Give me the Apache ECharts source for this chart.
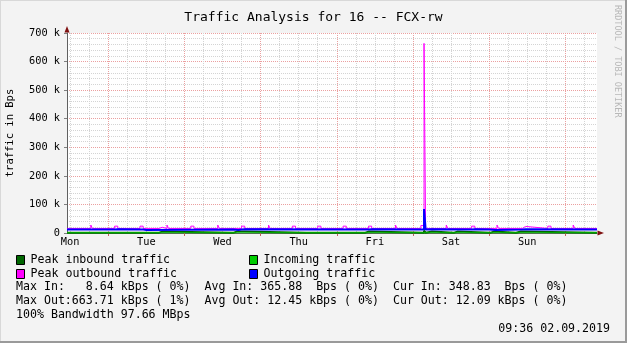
<!DOCTYPE html>
<html><head><meta charset="utf-8">
<script src="https://cdn.jsdelivr.net/npm/echarts@6/dist/echarts.min.js"></script>
<style>html,body{margin:0;padding:0;background:#f3f3f3}#c{width:627px;height:343px}</style>
</head><body><div id="c"></div>
<script>
// ---- text ----
const chartTitle = 'Traffic Analysis for 16 -- FCX-rw';
const yAxisTitle = 'traffic in Bps';
const watermark = 'RRDTOOL / TOBI OETIKER';
const statsLines = [
  'Max In:   8.64 kBps ( 0%)  Avg In: 365.88  Bps ( 0%)  Cur In: 348.83  Bps ( 0%)',
  'Max Out:663.71 kBps ( 1%)  Avg Out: 12.45 kBps ( 0%)  Cur Out: 12.09 kBps ( 0%)',
  '100% Bandwidth 97.66 MBps'
];
const timestamp = '09:36 02.09.2019';

// ---- axes (hours since Mon 26.08.2019 00:00) ----
const xStart = 11, xEnd = 178;
const dayLabels = ['Mon','Tue','Wed','Thu','Fri','Sat','Sun'];
const dayLabelHours = [12,36,60,84,108,132,156];
const midnightHours = [24,48,72,96,120,144,168];
const sixHourHours = [12,18,30,36,42,54,60,66,78,84,90,102,108,114,126,132,138,150,156,162,174];
const yMax = 700000, yStep = 100000;

// ---- series: [hour, Bps] step samples ----
const seriesNames = ['Peak inbound traffic','Incoming traffic','Peak outbound traffic','Outgoing traffic'];
const seriesColors = ['#006600','#00cc00','#ff00ff','#0000ff'];

const peakIn = [[11,1200],[40,5000],[41,1200],[63.5,5000],[64.5,1200],[65,5000],[67,1200],[86.5,5000],[87,1200],
  [105,5000],[106,1200],[123.5,8640],[124,1200],[124.5,5000],[126,1200],[133,5000],[134,1200],
  [144.5,5000],[145.5,1200],[152.5,5000],[154,1200],[178,1200]];
const incoming = [[11,350],[123.5,3000],[124,350],[178,350]];
const peakOut = [[11,16000],[18.5,28000],[19,16000],[26,24000],[27,16000],[34,24000],[35,16000],
  [40,20000],[41,16000],[42.5,28000],[43,16000],[50,24000],[51,16000],[58.5,28000],[59,16000],
  [66,24000],[67,16000],[74.5,28000],[75,16000],[82,24000],[83,16000],[90,24000],[91,16000],
  [98,24000],[99,16000],[106,24000],[107,16000],[114.5,28000],[115,16000],
  [122.5,26000],[123.5,663710],[124,16000],[130.5,28000],[131,16000],[138.5,24000],[139.5,16000],
  [146.5,28000],[147,16000],[154.5,23000],[155.5,16000],[162.5,24000],[163.5,16000],
  [170.5,28000],[171,16000],[178,16000]];
const outgoing = [[11,12000],[26,13000],[27,12000],[35,10500],[36,12000],[63.5,10500],[65,12000],
  [66,13000],[67,12000],[106,13000],[107,12000],[123.5,84000],[124,12000],[124.5,13000],[126,12000],
  [138.5,13000],[139.5,12000],[144,10500],[146,12000],[154.5,13000],[155.5,12000],[178,12000]];

const seriesData = [peakIn, incoming, peakOut, outgoing];
const seriesWidths = [2, 1, 1, 2];

const FONT = 'DejaVu Sans Mono';
const chart = echarts.init(document.getElementById('c'), null, {renderer:'canvas'});

const legendPos = [[16,254],[249,254],[16,268],[249,268]];

const hiddenAxis = (values, color, tick) => ({
  type: 'value', min: xStart, max: xEnd, position: 'bottom',
  axisLine: { show: false, onZero: false },
  axisTick: { show: tick, customValues: values, length: 3, lineStyle: { color: '#c06060' } },
  axisLabel: { show: false },
  splitLine: { show: true, lineStyle: { color: color, type: [1,1], width: 1 } }
});

const option = {
  animation: false,
  backgroundColor: '#f3f3f3',
  title: { text: chartTitle, left: 'center', top: 6,
    textStyle: { fontFamily: FONT, fontSize: 13, fontWeight: 'normal', color: '#000' } },
  grid: { left: 67, right: 30, top: 33, bottom: 110, show: true, backgroundColor: '#ffffff', borderWidth: 0,
    containLabel: false, outerBoundsMode: 'none' },
  legend: seriesNames.map((n, i) => ({
    data: [n], left: legendPos[i][0], top: legendPos[i][1], padding: 0,
    icon: 'rect', itemWidth: 8, itemHeight: 9, itemGap: 0, selectedMode: false,
    itemStyle: { borderColor: '#000', borderWidth: 1 },
    textStyle: { fontFamily: FONT, fontSize: 11.6, color: '#000', padding: [0,0,0,1] }
  })),
  xAxis: [
    { type: 'value', min: xStart, max: xEnd,
      axisLine: { show: true, onZero: false, lineStyle: { color: '#606060', width: 1 } },
      axisTick: { show: false },
      axisLabel: { show: true, customValues: dayLabelHours, margin: 4,
        formatter: v => dayLabels[dayLabelHours.indexOf(v)] || '',
        fontFamily: FONT, fontSize: 10.3, color: '#000' },
      splitLine: { show: false } },
    hiddenAxis(sixHourHours, '#d4d4d4', false),
    hiddenAxis(midnightHours, '#eba0a0', true)
  ],
  yAxis: {
    type: 'value', min: 0, max: yMax, interval: yStep,
    name: yAxisTitle, nameLocation: 'middle', nameGap: 51, nameRotate: 90,
    nameTextStyle: { fontFamily: FONT, fontSize: 10.5, color: '#000' },
    axisLine: { show: true, lineStyle: { color: '#606060', width: 1 } },
    axisTick: { show: true, length: 3, lineStyle: { color: '#808080' } },
    axisLabel: { margin: 7, fontFamily: FONT, fontSize: 10.3, color: '#000',
      formatter: v => v === 0 ? '0' : (v / 1000) + ' k' },
    splitLine: { show: true, lineStyle: { color: '#eba0a0', type: [1,1], width: 1 } },
    minorTick: { show: false, splitNumber: 5 },
    minorSplitLine: { show: true, lineStyle: { color: '#d4d4d4', type: [1,1], width: 1 } }
  },
  series: seriesNames.map((n, i) => ({
    name: n, type: 'line', step: 'end', data: seriesData[i], xAxisIndex: 0,
    showSymbol: false, symbol: 'none', color: seriesColors[i], z: 3 + i,
    lineStyle: { color: seriesColors[i], width: seriesWidths[i] }
  })),
  graphic: [
    { type: 'rect', shape: { x: 0, y: 0, width: 627, height: 1 }, style: { fill: '#d8d8d8' }, silent: true },
    { type: 'rect', shape: { x: 0, y: 0, width: 1, height: 343 }, style: { fill: '#d8d8d8' }, silent: true },
    { type: 'rect', shape: { x: 625, y: 0, width: 2, height: 343 }, style: { fill: '#9a9a9a' }, silent: true },
    { type: 'rect', shape: { x: 0, y: 341, width: 627, height: 2 }, style: { fill: '#9a9a9a' }, silent: true },
    { type: 'polygon', shape: { points: [[67,26],[64.5,32.5],[69.5,32.5]] }, style: { fill: '#7f1010' }, z: 20 },
    { type: 'polygon', shape: { points: [[604,233],[597.5,230.5],[597.5,235.5]] }, style: { fill: '#7f1010' }, z: 20 },
    { type: 'text', x: 617, y: 5, rotation: -Math.PI / 2,
      style: { text: watermark, fontFamily: FONT, fontSize: 8.5, fill: '#b8b8b8', textAlign: 'left', textVerticalAlign: 'middle' } },
    ...statsLines.map((t, i) => ({ type: 'text', x: 16, y: 287 + i * 14,
      style: { text: t, fontFamily: FONT, fontSize: 11.6, fill: '#000', textAlign: 'left', textVerticalAlign: 'middle' } })),
    { type: 'text', x: 610, y: 329,
      style: { text: timestamp, fontFamily: FONT, fontSize: 11.6, fill: '#000', textAlign: 'right', textVerticalAlign: 'middle' } }
  ]
};
chart.setOption(option);
</script></body></html>
